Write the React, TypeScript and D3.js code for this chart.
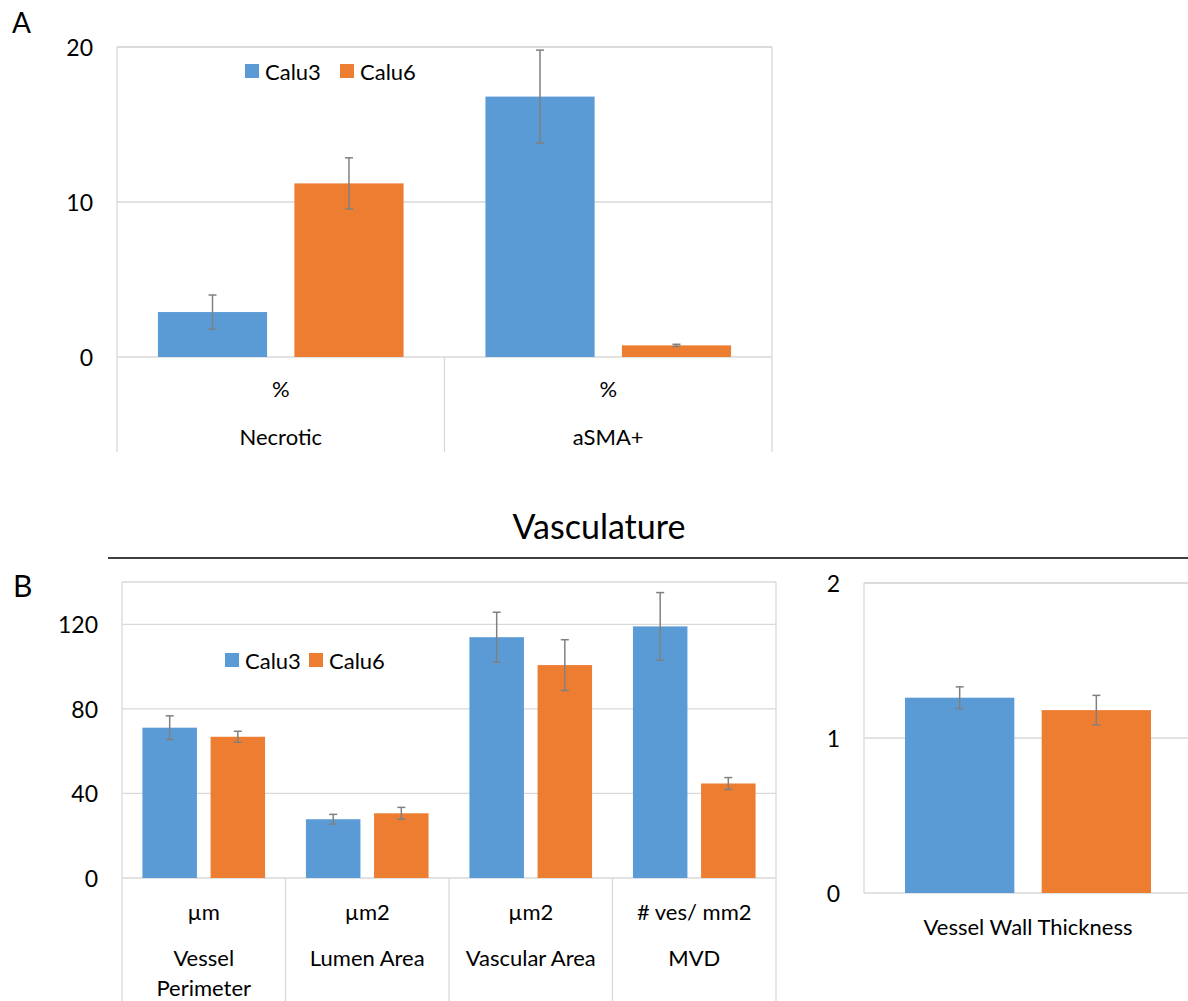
import React, { useRef, useEffect } from "react";
import * as d3 from "d3";

const series = ["Calu3", "Calu6"];
const seriesColors = ["#5b9bd5", "#ed7d31"];

// A: tissue composition
const tissueCats = ["Necrotic", "aSMA+"];
const tissueUnits = ["%", "%"];
const tissueCalu3 = [2.9, 16.8];
const tissueCalu6 = [11.2, 0.75];
const tissueCalu3Err = [1.1, 3.0];
const tissueCalu6Err = [1.65, 0.07];
const tissueTicks = [0, 10, 20];

// B: vasculature
const vascCats = ["Vessel Perimeter", "Lumen Area", "Vascular Area", "MVD"];
const vascUnits = ["µm", "µm2", "µm2", "# ves/ mm2"];
const vascCalu3 = [71.1, 27.8, 113.9, 119];
const vascCalu6 = [66.8, 30.6, 100.7, 44.7];
const vascCalu3Err = [5.6, 2.3, 11.8, 16];
const vascCalu6Err = [2.6, 2.8, 12, 2.8];
const vascTicks = [0, 40, 80, 120];

// B right: wall thickness
const wallCats = ["Vessel Wall Thickness"];
const wallCalu3 = [1.26];
const wallCalu6 = [1.18];
const wallCalu3Err = [0.07];
const wallCalu6Err = [0.095];
const wallTicks = [0, 1, 2];

const FONT = "Lato, 'Open Sans', sans-serif";
const GRID = "#d9d9d9";

function drawPanel(svg, p) {
  const g = svg.append("g");
  const x = d3.scaleBand().domain(p.cats).range([p.left, p.right]).padding(0);
  const xs = d3.scaleBand().domain(series).range([0, x.bandwidth() * 0.75]).paddingInner(0.2);
  const y = d3.scaleLinear().domain([0, p.max]).range([p.zero, p.top]);

  // gridlines
  g.selectAll("line.grid").data(p.ticks.filter((t) => t > 0)).join("line")
    .attr("class", "grid")
    .attr("x1", p.left).attr("x2", p.right)
    .attr("y1", (d) => y(d)).attr("y2", (d) => y(d))
    .attr("stroke", GRID).attr("stroke-width", 1.3);

  // frame
  const frame = [
    [p.left, p.top, p.right, p.top],
    [p.left, p.top, p.left, p.bottom],
    [p.right, p.top, p.right, p.boxed ? p.bottom : p.zero],
    [p.left, p.zero, p.right, p.zero],
  ];
  if (p.boxed) p.cats.slice(1).forEach((c) => frame.push([x(c), p.zero, x(c), p.bottom]));
  g.selectAll("line.frame").data(frame).join("line")
    .attr("class", "frame")
    .attr("x1", (d) => d[0]).attr("y1", (d) => d[1])
    .attr("x2", (d) => d[2]).attr("y2", (d) => d[3])
    .attr("stroke", GRID).attr("stroke-width", 1.3);

  // bars
  const rows = [];
  p.cats.forEach((c, i) => {
    rows.push({ cat: c, s: series[0], v: p.a[i], e: p.aErr[i], col: seriesColors[0] });
    rows.push({ cat: c, s: series[1], v: p.b[i], e: p.bErr[i], col: seriesColors[1] });
  });
  const bx = (d) => x(d.cat) + x.bandwidth() * 0.125 + xs(d.s);
  g.selectAll("rect.bar").data(rows).join("rect")
    .attr("class", "bar")
    .attr("x", bx).attr("width", xs.bandwidth())
    .attr("y", (d) => y(d.v)).attr("height", (d) => y(0) - y(d.v))
    .attr("fill", (d) => d.col);

  // error bars
  const eb = g.selectAll("g.err").data(rows).join("g").attr("class", "err")
    .attr("stroke", "#808080").attr("stroke-width", 1.5);
  eb.append("line")
    .attr("x1", (d) => bx(d) + xs.bandwidth() / 2).attr("x2", (d) => bx(d) + xs.bandwidth() / 2)
    .attr("y1", (d) => y(d.v + d.e)).attr("y2", (d) => y(d.v - d.e));
  [1, -1].forEach((sgn) => {
    eb.append("line")
      .attr("x1", (d) => bx(d) + xs.bandwidth() / 2 - 4).attr("x2", (d) => bx(d) + xs.bandwidth() / 2 + 4)
      .attr("y1", (d) => y(d.v + sgn * d.e)).attr("y2", (d) => y(d.v + sgn * d.e));
  });

  // y tick labels
  g.selectAll("text.tick").data(p.ticks).join("text")
    .attr("class", "tick")
    .attr("x", p.tickX).attr("y", (d) => y(d))
    .attr("text-anchor", "end").attr("dominant-baseline", "central")
    .style("font-family", FONT).style("font-size", "23px")
    .text((d) => d);

  // category labels (units row + name row, wrapped)
  p.cats.forEach((c, i) => {
    const cx = x(c) + x.bandwidth() / 2;
    if (p.units) {
      g.append("text").attr("x", cx).attr("y", p.unitY)
        .attr("text-anchor", "middle").attr("dominant-baseline", "central")
        .style("font-family", FONT).style("font-size", "22px")
        .text(p.units[i]);
    }
    const t = g.append("text").attr("x", cx).attr("y", p.nameY)
      .attr("text-anchor", "middle").attr("dominant-baseline", "central")
      .style("font-family", FONT).style("font-size", "22px")
      .text(c);
    if (t.node().getComputedTextLength() > x.bandwidth() * 0.92) {
      const words = c.split(" ");
      t.text(null);
      words.forEach((w, k) => {
        t.append("tspan").attr("x", cx).attr("dy", k === 0 ? 0 : 30).text(w);
      });
    }
  });

  // legend
  if (p.legend) {
    const lg = g.append("g").selectAll("g").data(series).join("g")
      .attr("transform", (d, i) => "translate(" + (p.legend.x + i * p.legend.step) + "," + p.legend.y + ")");
    lg.append("rect").attr("x", 0).attr("y", -7).attr("width", 14).attr("height", 14)
      .attr("fill", (d, i) => seriesColors[i]);
    lg.append("text").attr("x", 20).attr("y", 0).attr("dominant-baseline", "central")
      .style("font-family", FONT).style("font-size", "22px")
      .text((d) => d);
  }
}

const App = () => {
  const svgEl = useRef(null);

  useEffect(() => {
    const svg = d3.select(svgEl.current);
    svg.selectAll("*").remove();

    drawPanel(svg, {
      cats: tissueCats, units: tissueUnits, a: tissueCalu3, b: tissueCalu6,
      aErr: tissueCalu3Err, bErr: tissueCalu6Err, ticks: tissueTicks, max: 20,
      left: 117, right: 772, top: 47, zero: 357, bottom: 452, boxed: true,
      tickX: 93, unitY: 388, nameY: 436, legend: { x: 245, y: 71, step: 95 },
    });
    drawPanel(svg, {
      cats: vascCats, units: vascUnits, a: vascCalu3, b: vascCalu6,
      aErr: vascCalu3Err, bErr: vascCalu6Err, ticks: vascTicks, max: 140,
      left: 122, right: 776, top: 582, zero: 878, bottom: 1001, boxed: true,
      tickX: 98, unitY: 911, nameY: 957, legend: { x: 225, y: 660, step: 84 },
    });
    drawPanel(svg, {
      cats: wallCats, units: null, a: wallCalu3, b: wallCalu6,
      aErr: wallCalu3Err, bErr: wallCalu6Err, ticks: wallTicks, max: 2,
      left: 864, right: 1192, top: 583, zero: 893, bottom: 893, boxed: false,
      tickX: 840, unitY: 0, nameY: 926, legend: null,
    });

    // panel letters, section title and rule
    svg.append("text").attr("x", 12).attr("y", 33)
      .style("font-family", FONT).style("font-size", "28px").text("A");
    svg.append("text").attr("x", 13).attr("y", 597)
      .style("font-family", FONT).style("font-size", "30px").text("B");
    svg.append("text").attr("x", 599).attr("y", 539).attr("text-anchor", "middle")
      .style("font-family", FONT).style("font-size", "34px").text("Vasculature");
    svg.append("line").attr("x1", 108).attr("x2", 1188).attr("y1", 558).attr("y2", 558)
      .attr("stroke", "#000").attr("stroke-width", 1.5);
  }, []);

  return (
    <svg ref={svgEl} width={1188} height={1001}
      style={{ position: "absolute", left: 0, top: 0, background: "#fff" }} />
  );
};

export default App;
